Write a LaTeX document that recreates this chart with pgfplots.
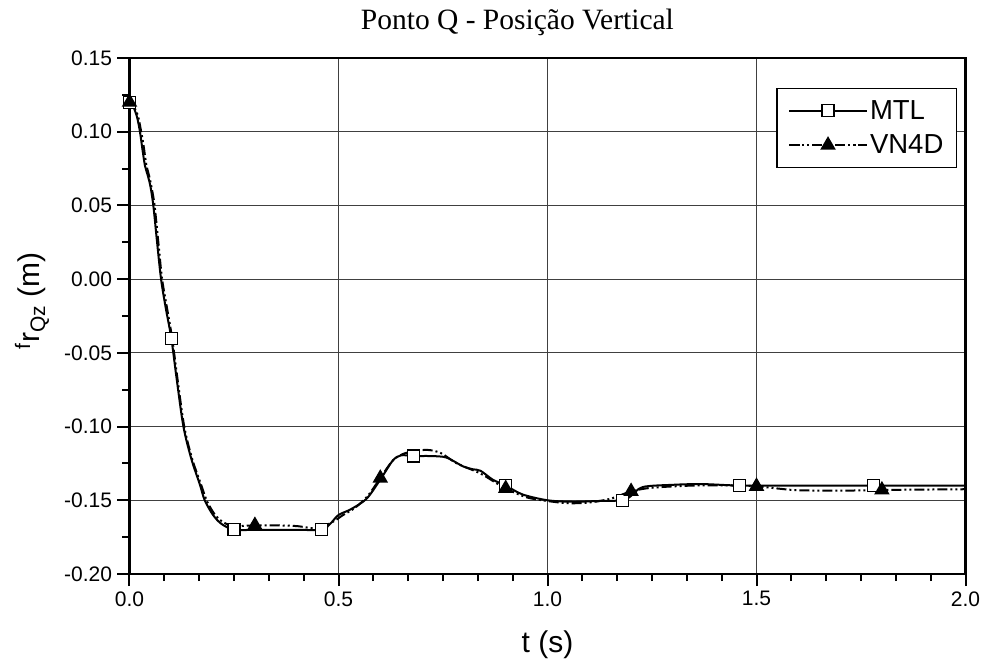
\documentclass[border=0pt]{standalone}
\usepackage{fontspec}
\setmainfont{Liberation Sans}
\newfontfamily\timesfont{Liberation Serif}
\usepackage{pgfplots}
\pgfplotsset{compat=1.18}
\begin{document}
\begin{tikzpicture}
\path[use as bounding box] (-129.5pt,-87pt) rectangle (853.5pt,574pt);
\begin{axis}[
  scale only axis, width=836pt, height=516pt,
  at={(0pt,0pt)}, anchor=south west,
  xmin=0, xmax=2, ymin=-0.2, ymax=0.15,
  xtick={0,0.5,1,1.5,2}, xticklabels={0.0,0.5,1.0,1.5,2.0},
  ytick={-0.2,-0.15,-0.1,-0.05,0,0.05,0.1,0.15},
  yticklabels={-0.20,-0.15,-0.10,-0.05,0.00,0.05,0.10,0.15},
  minor x tick num=5, minor y tick num=1,
  tick align=outside, xtick pos=bottom, ytick pos=left,
  major tick length=12pt, minor tick length=7pt,
  every tick/.style={black, line width=2pt},
  axis line style={line width=2.7pt},
  grid=major, major grid style={black!75, line width=1.1pt},
  tick label style={font=\fontsize{21}{24}\selectfont},
  yticklabel style={xshift=-2pt},
  xticklabel style={yshift=-2pt},
  label style={font=\fontsize{30}{34}\selectfont},
  xlabel={t (s)},
  ylabel={\textsuperscript{f}r\textsubscript{Qz} (m)},
  xlabel style={at={(axis description cs:0.5,-0.1376)}, anchor=center},
  ylabel style={at={(axis description cs:-0.1166,0.53)}, anchor=center},
  title={Ponto Q - Posição Vertical},
  title style={font=\timesfont\fontsize{29.5}{34}\selectfont, at={(0.464,1)}, anchor=base, yshift=22.7pt},
  legend style={at={(0.9898,0.942)}, anchor=north east, draw=black, line width=1.2pt, fill=white,
    font=\fontsize{27.5}{32}\selectfont, inner xsep=11pt, inner ysep=10pt, row sep=10pt},
  legend cell align=left,
  legend image code/.code={\draw[#1, mark indices={2}] plot coordinates {(0pt,0pt) (39pt,0pt) (78pt,0pt)};},
]
\addplot[black, line width=2pt, smooth, mark=square*, mark size=6pt,
  mark options={fill=white, solid, line width=1.2pt},
  mark indices={1,13,21,25,33,40,45,50,52}] coordinates {
(0.000,0.120) (0.009,0.117) (0.018,0.110) (0.025,0.100) (0.031,0.088) (0.037,0.077)
(0.044,0.070) (0.050,0.063) (0.057,0.050) (0.066,0.025) (0.0755,0.000) (0.087,-0.020)
(0.100,-0.040) (0.113,-0.068) (0.129,-0.100) (0.148,-0.122) (0.168,-0.139) (0.180,-0.150)
(0.200,-0.160) (0.220,-0.166) (0.250,-0.170) (0.300,-0.170) (0.350,-0.170) (0.400,-0.170)
(0.460,-0.170) (0.480,-0.166) (0.500,-0.160) (0.530,-0.156) (0.567,-0.149) (0.600,-0.136)
(0.630,-0.123) (0.650,-0.1195) (0.680,-0.120) (0.720,-0.120) (0.758,-0.121) (0.798,-0.127)
(0.822,-0.129) (0.840,-0.130) (0.869,-0.136) (0.900,-0.140) (0.940,-0.146) (1.000,-0.150)
(1.060,-0.151) (1.120,-0.1505) (1.180,-0.150) (1.200,-0.147) (1.228,-0.141) (1.300,-0.1395)
(1.370,-0.139) (1.460,-0.140) (1.600,-0.140) (1.780,-0.140) (2.000,-0.140)
};
\addlegendentry{MTL}
\addplot[black, line width=2pt, smooth,
  dash pattern=on 10pt off 3pt on 2pt off 3pt on 2pt off 3pt,
  mark=triangle*, mark size=7pt, mark options={fill=black, solid},
  mark indices={1,22,30,38,44,48,52}] coordinates {
(0.000,0.120) (0.010,0.117) (0.020,0.111) (0.028,0.100) (0.034,0.090) (0.040,0.078)
(0.047,0.070) (0.053,0.062) (0.060,0.050) (0.069,0.025) (0.078,0.000) (0.090,-0.020)
(0.102,-0.040) (0.115,-0.068) (0.131,-0.100) (0.150,-0.122) (0.172,-0.140) (0.186,-0.151)
(0.205,-0.160) (0.225,-0.165) (0.250,-0.1675) (0.300,-0.167) (0.350,-0.167) (0.400,-0.1675)
(0.450,-0.169) (0.487,-0.1645) (0.511,-0.160) (0.540,-0.155) (0.570,-0.147) (0.600,-0.135)
(0.630,-0.123) (0.660,-0.118) (0.710,-0.1158) (0.745,-0.118) (0.782,-0.1248) (0.838,-0.1316)
(0.870,-0.137) (0.900,-0.142) (0.950,-0.148) (1.000,-0.1505) (1.050,-0.152) (1.100,-0.1515)
(1.150,-0.149) (1.200,-0.144) (1.250,-0.1415) (1.350,-0.140) (1.450,-0.140) (1.500,-0.1405)
(1.550,-0.142) (1.600,-0.1432) (1.700,-0.1435) (1.800,-0.143) (2.000,-0.1425)
};
\addlegendentry{VN4D}
\end{axis}
\end{tikzpicture}
\end{document}
